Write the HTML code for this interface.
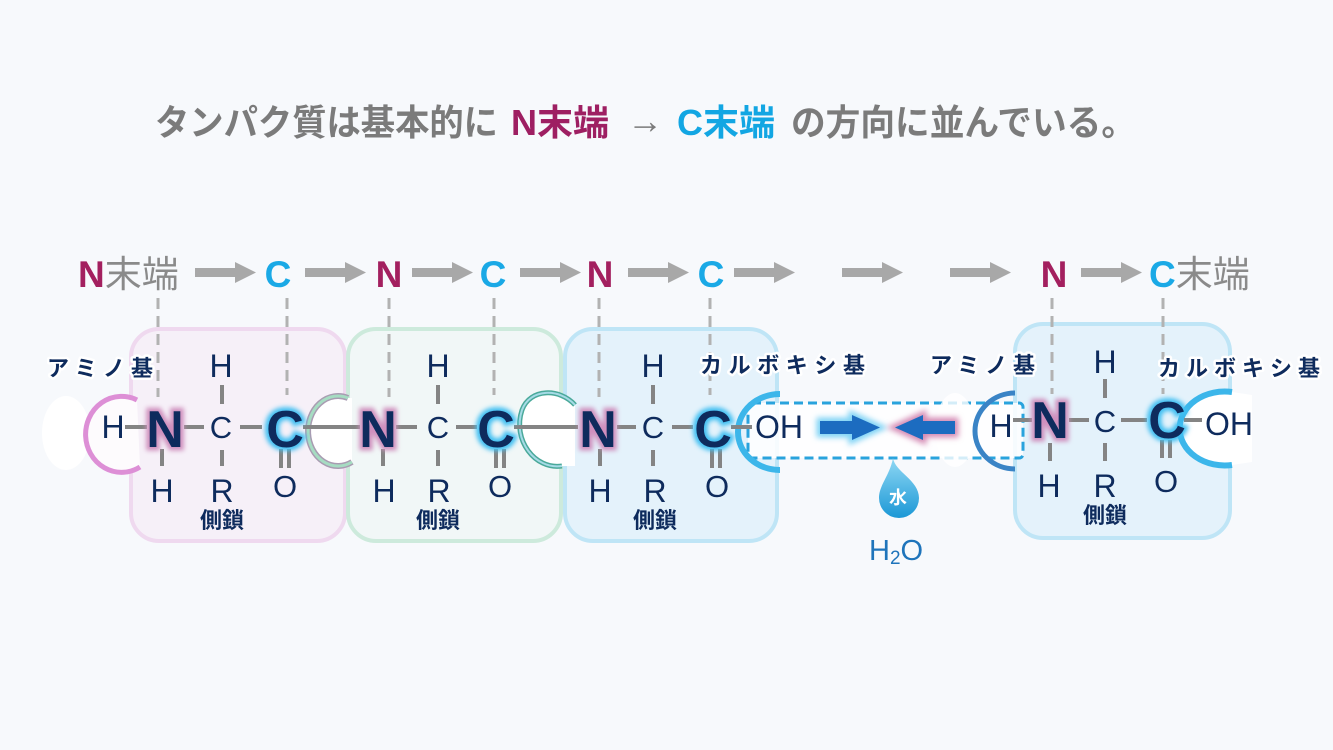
<!DOCTYPE html>
<html>
<head>
<meta charset="utf-8">
<style>
html,body{margin:0;padding:0;background:#f7f9fc;}
svg{display:block;}
.j{font-family:"Liberation Sans","Noto Sans CJK JP",sans-serif;}
.m{font-family:"Liberation Sans","Noto Sans CJK JP",sans-serif;fill:#0e2b5d;}
.lbl{font-family:"Liberation Sans","Noto Sans CJK JP",sans-serif;font-weight:bold;fill:#0e2b5d;font-size:22px;stroke:#ffffff;stroke-width:5px;paint-order:stroke;stroke-linejoin:round;}
.bd{stroke:#848484;stroke-width:4;fill:none;}
.dv{stroke:#b2b2b2;stroke-width:3;stroke-dasharray:11 7;fill:none;}
</style>
</head>
<body>
<svg width="1333" height="750" viewBox="0 0 1333 750" xmlns="http://www.w3.org/2000/svg">
<defs>
<filter id="gl" x="-50%" y="-50%" width="200%" height="200%"><feGaussianBlur stdDeviation="2.5"/></filter>
<filter id="gl2" x="-50%" y="-50%" width="200%" height="200%"><feGaussianBlur stdDeviation="3"/></filter>
<linearGradient id="drop" x1="0" y1="0" x2="0" y2="1">
<stop offset="0" stop-color="#8fd8f4"/><stop offset="1" stop-color="#1c98d6"/>
</linearGradient>
</defs>
<rect width="1333" height="750" fill="#f7f9fc"/>

<!-- Title -->
<g class="j" font-weight="bold" font-size="36">
<text x="155" y="135" fill="#7b7b7b" textLength="343" lengthAdjust="spacingAndGlyphs">タンパク質は基本的に</text>
<text x="511" y="135" fill="#9e1f62">N末端</text>
<text x="627" y="133" fill="#7b7b7b" font-weight="normal" font-size="36">→</text>
<text x="677" y="135" fill="#12a6e3">C末端</text>
<text x="791" y="135" fill="#7b7b7b" textLength="345" lengthAdjust="spacingAndGlyphs">の方向に並んでいる。</text>
</g>

<!-- Row 2: N→C sequence -->
<g class="j" font-size="37">
<text x="78" y="287"><tspan fill="#a3205f" font-weight="bold">N</tspan><tspan fill="#8a8a8a">末端</tspan></text>
<text x="278" y="287" fill="#1aa9e6" font-weight="bold" text-anchor="middle">C</text>
<text x="389" y="287" fill="#a3205f" font-weight="bold" text-anchor="middle">N</text>
<text x="493" y="287" fill="#1aa9e6" font-weight="bold" text-anchor="middle">C</text>
<text x="600" y="287" fill="#a3205f" font-weight="bold" text-anchor="middle">N</text>
<text x="711" y="287" fill="#1aa9e6" font-weight="bold" text-anchor="middle">C</text>
<text x="1054" y="287" fill="#a3205f" font-weight="bold" text-anchor="middle">N</text>
<text x="1149" y="287"><tspan fill="#1aa9e6" font-weight="bold">C</tspan><tspan fill="#8a8a8a">末端</tspan></text>
</g>
<g fill="#a8a8a8">
<path d="M195 268h42v9h-42z M235 262 L256 272.5 L235 283z"/>
<path d="M305 268h42v9h-42z M345 262 L366 272.5 L345 283z"/>
<path d="M412 268h42v9h-42z M452 262 L473 272.5 L452 283z"/>
<path d="M520 268h42v9h-42z M560 262 L581 272.5 L560 283z"/>
<path d="M628 268h42v9h-42z M668 262 L689 272.5 L668 283z"/>
<path d="M734 268h42v9h-42z M774 262 L795 272.5 L774 283z"/>
<path d="M842 268h42v9h-42z M882 262 L903 272.5 L882 283z"/>
<path d="M950 268h42v9h-42z M990 262 L1011 272.5 L990 283z"/>
<path d="M1081 268h42v9h-42z M1121 262 L1142 272.5 L1121 283z"/>
</g>

<!-- Boxes -->
<rect x="131" y="329" width="214" height="212" rx="28" fill="#f6f0f8" stroke="#efd9ef" stroke-width="4"/>
<rect x="348" y="329" width="213" height="212" rx="28" fill="#f1f7f7" stroke="#cdeadc" stroke-width="4"/>
<rect x="565" y="329" width="212" height="212" rx="28" fill="#e4f2fb" stroke="#bfe5f6" stroke-width="4"/>
<rect x="1015" y="324" width="215" height="214" rx="28" fill="#e4f2fb" stroke="#bfe5f6" stroke-width="4"/>

<!-- dashed vertical guides -->
<g class="dv">
<line x1="158" y1="298" x2="158" y2="397"/>
<line x1="287" y1="298" x2="287" y2="395"/>
<line x1="389" y1="298" x2="389" y2="397"/>
<line x1="494" y1="298" x2="494" y2="395"/>
<line x1="599" y1="298" x2="599" y2="397"/>
<line x1="710" y1="298" x2="710" y2="395"/>
<line x1="1052" y1="298" x2="1052" y2="394"/>
<line x1="1163" y1="298" x2="1163" y2="394"/>
</g>

<!-- left white ellipse and pink amino ring -->
<ellipse cx="66" cy="433" rx="24" ry="37" fill="#ffffff"/>
<path d="M137 400 A36 38 0 1 0 140 467" fill="#fdfbfd" stroke="#dd8fd6" stroke-width="5"/>

<!-- connector 1-2 -->
<path d="M348 398 A30 35 0 1 0 352 462 L352 398z" fill="#ffffff"/>
<path d="M348 398 A30 35 0 1 0 352 462" fill="none" stroke="#a99cb2" stroke-width="6"/>
<path d="M348 398 A30 35 0 1 0 352 462" fill="none" stroke="#a6dcc2" stroke-width="3"/>

<!-- connector 2-3 -->
<path d="M575 405 C560 388,530 388,522 410 C512 440,535 470,562 466 L575 466z" fill="#ffffff"/>
<path d="M575 405 C560 388,530 388,522 410 C512 440,535 470,562 466" fill="none" stroke="#4aa99a" stroke-width="5"/>
<path d="M575 405 C560 388,530 388,522 410 C512 440,535 470,562 466" fill="none" stroke="#a6dbe6" stroke-width="2"/>

<!-- dashed reaction box -->
<rect x="748" y="403" width="275" height="55" rx="4" fill="#ffffff" fill-opacity="0.85" stroke="#29a3dd" stroke-width="3" stroke-dasharray="9 5"/>
<!-- OH ring box3 -->
<path d="M780 394 A42 38 0 1 0 780 470" fill="none" stroke="#3cb6ea" stroke-width="6"/>
<!-- amino ring box4 -->
<ellipse cx="955" cy="430" rx="20" ry="37" fill="#ffffff" opacity="0.8"/>
<path d="M1015 393 A40 38 0 1 0 1015 469" fill="none" stroke="#3a84c6" stroke-width="5"/>
<!-- OH ring box4 -->
<path d="M1232 392 A45 37 0 1 0 1232 465 L1252 462 L1252 395z" fill="#ffffff"/>
<path d="M1232 392 A45 37 0 1 0 1232 465" fill="none" stroke="#3cb6ea" stroke-width="6"/>

<!-- reaction arrows -->
<path d="M820 421h34v13h-34z M852 415 L880 427.5 L852 440z" fill="#7fd3f5" stroke="#7fd3f5" stroke-width="7" filter="url(#gl2)"/>
<path d="M820 421h34v13h-34z M852 415 L880 427.5 L852 440z" fill="#1c6cc0"/>
<path d="M955 421h-34v13h34z M923 415 L895 427.5 L923 440z" fill="#d48ab4" stroke="#d48ab4" stroke-width="7" filter="url(#gl2)"/>
<path d="M955 421h-34v13h34z M923 415 L895 427.5 L923 440z" fill="#1c6cc0"/>

<!-- bonds -->
<g class="bd">
<line x1="125" y1="427" x2="147" y2="427"/>
<line x1="184" y1="427" x2="204" y2="427"/>
<line x1="240" y1="427" x2="262" y2="427"/>
<line x1="222" y1="385" x2="222" y2="404"/>
<line x1="222" y1="450" x2="222" y2="466"/>
<line x1="162" y1="449" x2="162" y2="466"/>
<line x1="281" y1="449" x2="281" y2="468"/>
<line x1="289" y1="449" x2="289" y2="468"/>
<line x1="303" y1="427" x2="360" y2="427"/>
<line x1="396" y1="427" x2="417" y2="427"/>
<line x1="456" y1="427" x2="477" y2="427"/>
<line x1="438" y1="385" x2="438" y2="404"/>
<line x1="438" y1="450" x2="438" y2="466"/>
<line x1="383" y1="449" x2="383" y2="466"/>
<line x1="496" y1="449" x2="496" y2="468"/>
<line x1="504" y1="449" x2="504" y2="468"/>
<line x1="514" y1="427" x2="578" y2="427"/>
<line x1="617" y1="427" x2="636" y2="427"/>
<line x1="672" y1="427" x2="693" y2="427"/>
<line x1="731" y1="427" x2="752" y2="427"/>
<line x1="653" y1="385" x2="653" y2="404"/>
<line x1="653" y1="450" x2="653" y2="466"/>
<line x1="600" y1="449" x2="600" y2="466"/>
<line x1="712" y1="449" x2="712" y2="468"/>
<line x1="720" y1="449" x2="720" y2="468"/>
<line x1="1013" y1="420" x2="1032" y2="420"/>
<line x1="1069" y1="420" x2="1089" y2="420"/>
<line x1="1121" y1="420" x2="1147" y2="420"/>
<line x1="1184" y1="420" x2="1202" y2="420"/>
<line x1="1105" y1="379" x2="1105" y2="398"/>
<line x1="1105" y1="443" x2="1105" y2="461"/>
<line x1="1050" y1="443" x2="1050" y2="461"/>
<line x1="1162" y1="440" x2="1162" y2="458"/>
<line x1="1170" y1="440" x2="1170" y2="458"/>
</g>

<!-- glows -->
<g font-family="Liberation Sans, sans-serif" font-weight="bold" font-size="52" text-anchor="middle" filter="url(#gl)">
<text x="165" y="447" fill="#cf8fbd" stroke="#cf8fbd" stroke-width="7">N</text>
<text x="285" y="447" fill="#40bff2" stroke="#40bff2" stroke-width="7">C</text>
<text x="378" y="447" fill="#cf8fbd" stroke="#cf8fbd" stroke-width="7">N</text>
<text x="496" y="447" fill="#40bff2" stroke="#40bff2" stroke-width="7">C</text>
<text x="598" y="447" fill="#cf8fbd" stroke="#cf8fbd" stroke-width="7">N</text>
<text x="713" y="447" fill="#40bff2" stroke="#40bff2" stroke-width="7">C</text>
<text x="1050" y="438" fill="#cf8fbd" stroke="#cf8fbd" stroke-width="7">N</text>
<text x="1167" y="438" fill="#40bff2" stroke="#40bff2" stroke-width="7">C</text>
</g>

<!-- big atoms -->
<g class="m" font-weight="bold" font-size="52" text-anchor="middle">
<text x="165" y="447">N</text>
<text x="285" y="447">C</text>
<text x="378" y="447">N</text>
<text x="496" y="447">C</text>
<text x="598" y="447">N</text>
<text x="713" y="447">C</text>
<text x="1050" y="438">N</text>
<text x="1167" y="438">C</text>
</g>

<!-- small atoms -->
<g class="m" font-size="32" text-anchor="middle">
<text x="113" y="438">H</text>
<text x="221" y="438" font-size="31">C</text>
<text x="221" y="377">H</text>
<text x="222" y="502">R</text>
<text x="162" y="502">H</text>
<text x="285" y="497" font-size="31">O</text>

<text x="438" y="438" font-size="31">C</text>
<text x="438" y="377">H</text>
<text x="439" y="502">R</text>
<text x="384" y="502">H</text>
<text x="500" y="497" font-size="31">O</text>

<text x="653" y="438" font-size="31">C</text>
<text x="653" y="377">H</text>
<text x="655" y="502">R</text>
<text x="600" y="502">H</text>
<text x="717" y="497" font-size="31">O</text>
<text x="779" y="438">OH</text>

<text x="1001" y="437">H</text>
<text x="1105" y="432" font-size="31">C</text>
<text x="1105" y="373">H</text>
<text x="1105" y="497">R</text>
<text x="1049" y="497">H</text>
<text x="1166" y="492" font-size="31">O</text>
<text x="1229" y="435">OH</text>
</g>

<!-- side chain labels -->
<g class="m" font-weight="bold" font-size="22" text-anchor="middle">
<text x="222" y="528">側鎖</text>
<text x="438" y="528">側鎖</text>
<text x="655" y="528">側鎖</text>
<text x="1105" y="523">側鎖</text>
</g>

<!-- group labels -->
<text class="lbl" x="47" y="376" textLength="106">アミノ基</text>
<text class="lbl" x="700" y="373" textLength="165">カルボキシ基</text>
<text class="lbl" x="930" y="373" textLength="105">アミノ基</text>
<text class="lbl" x="1158" y="376" textLength="162">カルボキシ基</text>

<!-- water drop -->
<path d="M893 458 C895 472,919 480,919 498 A20 20 0 1 1 879 498 C879 485,890 475,893 458 Z" fill="url(#drop)"/>
<text x="898" y="504" class="j" font-size="18" font-weight="bold" fill="#ffffff" text-anchor="middle">水</text>
<text x="869" y="560" class="j" font-size="29" fill="#1e74bb">H<tspan font-size="19" dy="4">2</tspan><tspan dy="-4">O</tspan></text>
</svg>
</body>
</html>
